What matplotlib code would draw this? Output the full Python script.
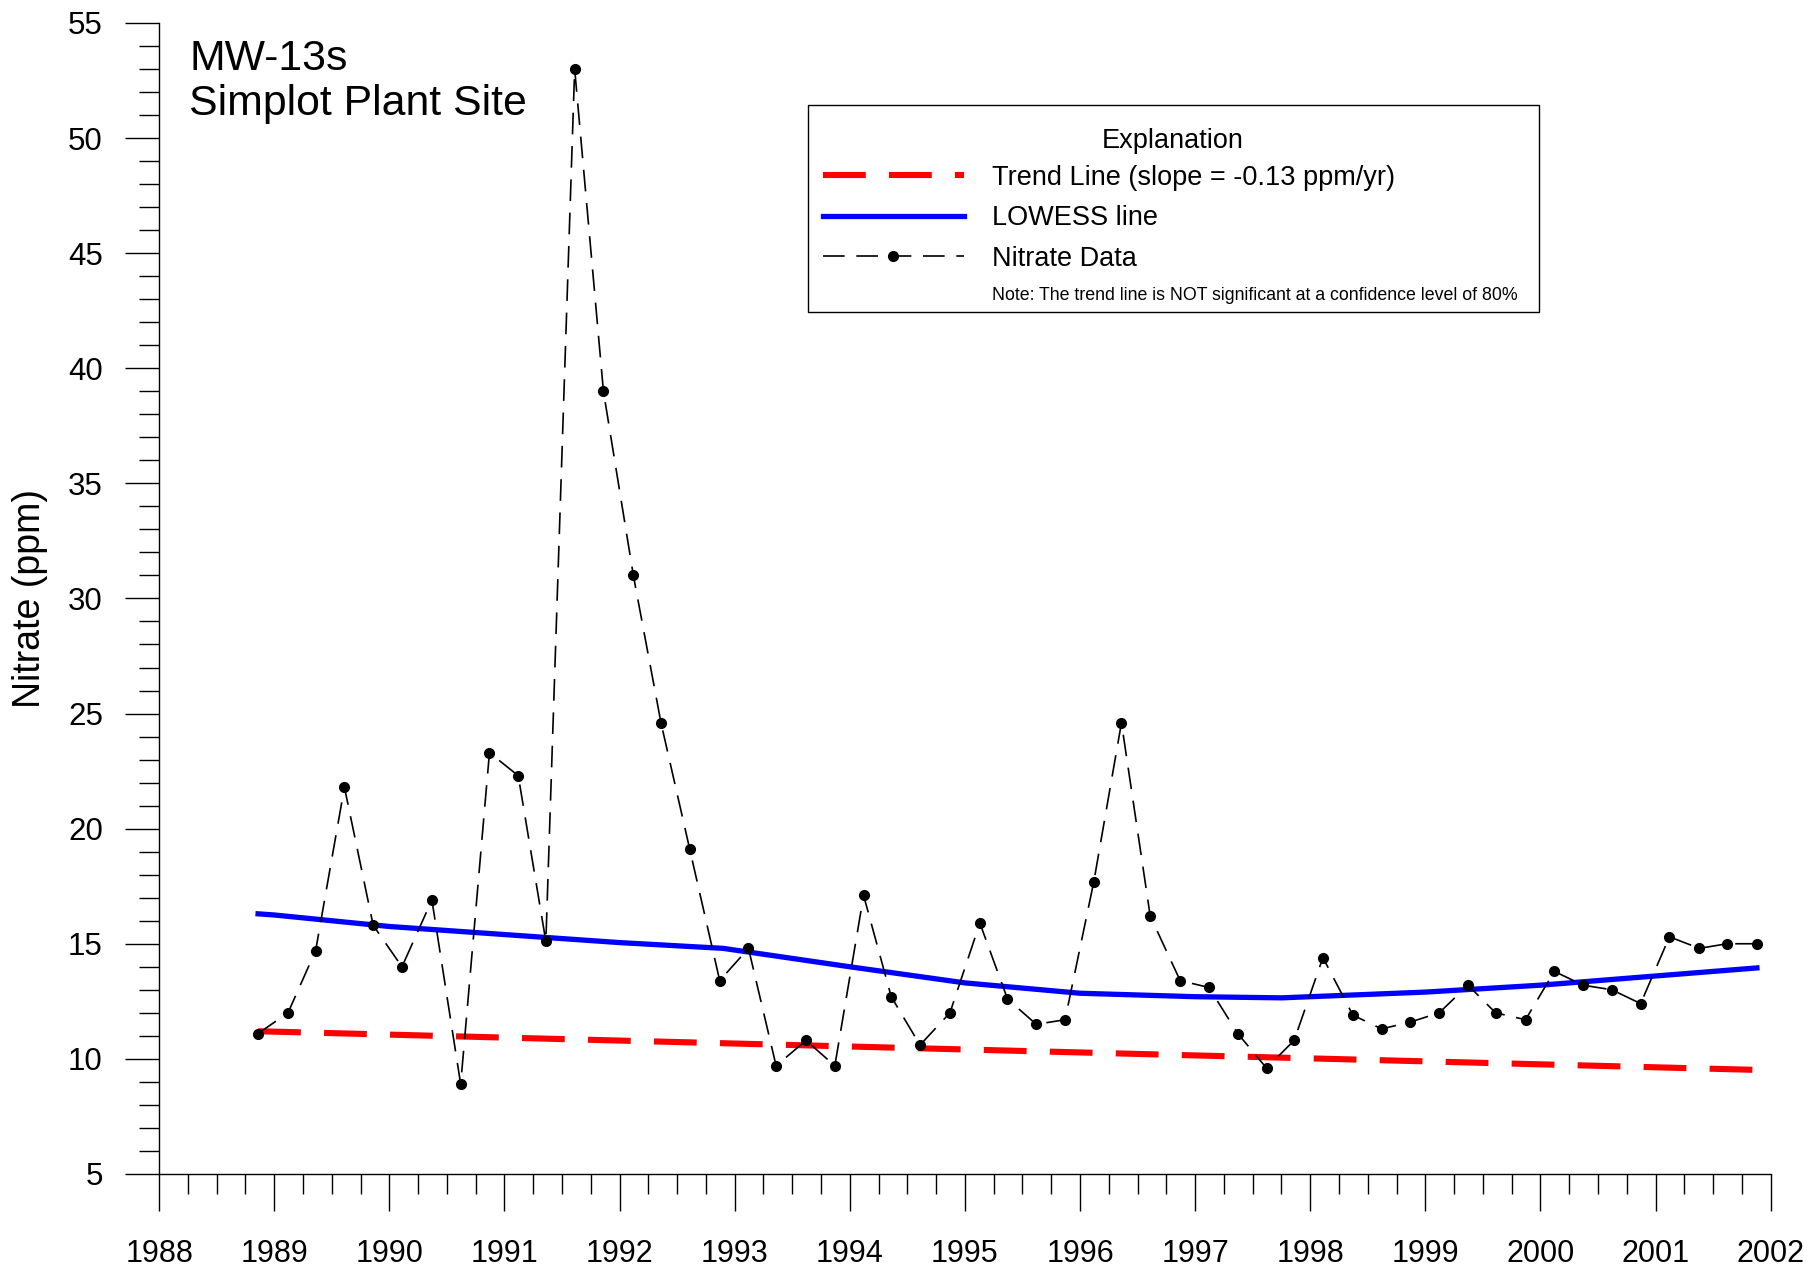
import matplotlib
matplotlib.use("Agg")
import matplotlib.pyplot as plt
from matplotlib.patches import Rectangle
from matplotlib.ticker import MultipleLocator

plt.rcParams['font.family'] = ['Liberation Sans', 'DejaVu Sans']

# Nitrate samples (decimal year, ppm)
sample_years = [1988.86, 1989.12, 1989.36, 1989.61, 1989.86, 1990.11, 1990.37, 1990.62,
                1990.87, 1991.12, 1991.36, 1991.61, 1991.86, 1992.12, 1992.36, 1992.61,
                1992.87, 1993.12, 1993.36, 1993.62, 1993.87, 1994.12, 1994.36, 1994.61,
                1994.87, 1995.13, 1995.37, 1995.62, 1995.87, 1996.12, 1996.36, 1996.61,
                1996.87, 1997.12, 1997.37, 1997.62, 1997.86, 1998.11, 1998.37, 1998.62,
                1998.87, 1999.12, 1999.37, 1999.61, 1999.87, 2000.12, 2000.37, 2000.62,
                2000.87, 2001.12, 2001.38, 2001.62, 2001.88]
nitrate = [11.1, 12.0, 14.7, 21.8, 15.8, 14.0, 16.9, 8.9,
           23.3, 22.3, 15.1, 53.0, 39.0, 31.0, 24.6, 19.1,
           13.4, 14.8, 9.7, 10.8, 9.7, 17.1, 12.7, 10.6,
           12.0, 15.9, 12.6, 11.5, 11.7, 17.7, 24.6, 16.2,
           13.4, 13.1, 11.1, 9.6, 10.8, 14.4, 11.9, 11.3,
           11.6, 12.0, 13.2, 12.0, 11.7, 13.8, 13.2, 13.0,
           12.4, 15.3, 14.8, 15.0, 15.0]

# Trend line end points
trend_years = [1988.86, 2001.88]
trend_vals = [11.2, 9.52]

# LOWESS curve
lowess_years = [1988.86, 1989.0, 1990.0, 1991.0, 1992.0, 1992.9, 1994.0, 1995.0,
                1996.0, 1997.0, 1997.75, 1999.0, 2000.0, 2001.0, 2001.88]
lowess_vals = [16.3, 16.25, 15.75, 15.4, 15.05, 14.8, 14.0, 13.3,
               12.85, 12.7, 12.65, 12.9, 13.2, 13.6, 13.95]

fig = plt.figure(figsize=(18.18, 12.73), dpi=100)
ax = fig.add_axes([0.0875, 0.0778, 0.8865, 0.9042])

ax.plot(trend_years, trend_vals, color='red', lw=4.4, linestyle=(0, (7, 3.8)),
        label='Trend Line (slope = -0.13 ppm/yr)')
ax.plot(lowess_years, lowess_vals, color='blue', lw=3.8, label='LOWESS line')
ax.plot(sample_years, nitrate, color='black', lw=1.2, linestyle=(0, (13, 7)),
        marker='o', markersize=7, label='Nitrate Data')

ax.set_xlim(1988, 2002)
ax.set_ylim(5, 55)
ax.xaxis.set_major_locator(MultipleLocator(1))
ax.xaxis.set_minor_locator(MultipleLocator(0.25))
ax.yaxis.set_major_locator(MultipleLocator(5))
ax.yaxis.set_minor_locator(MultipleLocator(1))

for s in ['top', 'right']:
    ax.spines[s].set_visible(False)
for s in ['left', 'bottom']:
    ax.spines[s].set_linewidth(1.0)

ax.tick_params(axis='x', which='major', direction='out', length=26.5, width=1,
               labelsize=22, pad=20)
ax.tick_params(axis='x', which='minor', direction='out', length=14.4, width=1)
ax.tick_params(axis='y', which='major', direction='out', length=24.5, width=1,
               labelsize=22.5, pad=16)
ax.tick_params(axis='y', which='minor', direction='out', length=14.4, width=1)

fig.text(0.0165, 0.530, 'Nitrate (ppm)', rotation=90, ha='center', va='center',
         fontsize=27)

ax.text(0.0186, 0.959, 'MW-13s', transform=ax.transAxes, fontsize=30.8,
        va='baseline')
ax.text(0.0186, 0.920, 'Simplot Plant Site', transform=ax.transAxes, fontsize=30.8,
        va='baseline')

# Explanation box
box = Rectangle((0.4445, 0.755), 0.4021, 0.1625, transform=fig.transFigure,
                facecolor='white', edgecolor='black', lw=1.0, zorder=4,
                clip_on=False)
ax.add_patch(box)
leg = ax.legend(loc='upper left', bbox_to_anchor=(0.4445, 0.8824),
                bbox_transform=fig.transFigure, borderaxespad=0, fontsize=19.5,
                handlelength=5.2, handletextpad=1.05, labelspacing=0.54,
                borderpad=0.55, frameon=False, numpoints=1)
leg.set_zorder(5)
ax.text(0.6452, 1 - 141 / 1273, 'Explanation', transform=fig.transFigure,
        ha='center', va='center', fontsize=19.5, zorder=6)
ax.text(992 / 1818, 1 - 295 / 1273,
        'Note: The trend line is NOT significant at a confidence level of 80%',
        transform=fig.transFigure, ha='left', va='center', fontsize=12.8, zorder=6)

fig.savefig('out.png', dpi=100)
